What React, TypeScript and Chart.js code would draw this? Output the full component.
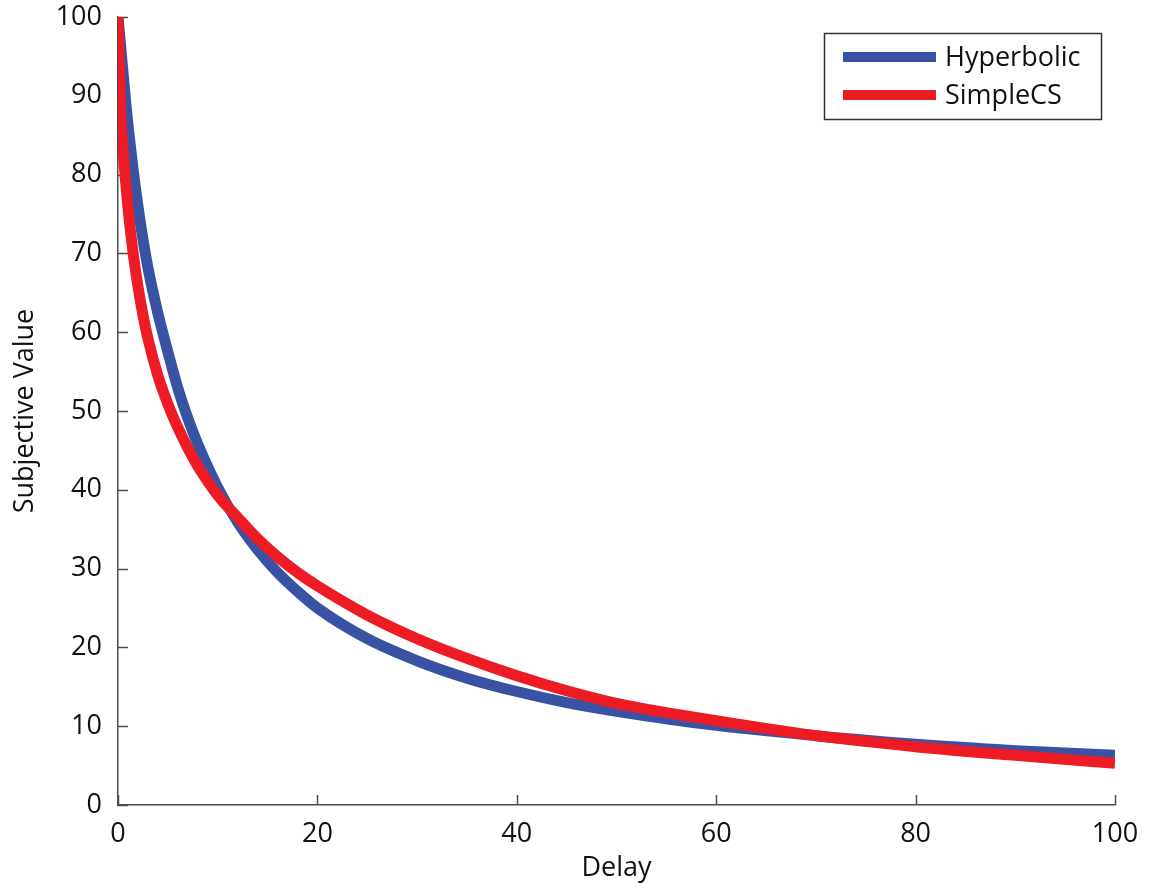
import { useEffect, useRef } from "react";
import { Chart, registerables } from "chart.js";

Chart.register(...registerables);

// ---- Data ----
const delays = [0, 0.25, 0.5, 0.75, 1, 1.5, 2, 2.5, 3, 4, 5, 6, 7, 8, 10, 12, 14, 16, 18, 20, 25, 30, 35, 40, 45, 50, 60, 70, 80, 90, 100];
const hyperbolicValues = [100, 96.5, 93, 89.5, 86.3, 80.8, 76, 71.8, 68.2, 62.4, 57.5, 52.9, 49.1, 45.8, 40.3, 35.9, 32.4, 29.5, 27.1, 25, 21.1, 18.3, 16.1, 14.4, 13, 11.9, 10.1, 8.8, 7.7, 6.9, 6.3];
const simpleCSValues = [100, 88.5, 83.3, 79.3, 75.8, 70.2, 65.8, 62.2, 59.2, 54.5, 50.9, 47.9, 45.3, 43, 39.3, 36.5, 33.8, 31.5, 29.5, 27.8, 24.1, 21.1, 18.6, 16.4, 14.5, 12.9, 10.7, 8.8, 7.4, 6.3, 5.3];

const seriesNames = ["Hyperbolic", "SimpleCS"];
const seriesColors = ["#3953a4", "#ed1c24"];

const xMin = 0;
const xMax = 100;
const xStep = 20;
const yMin = 0;
const yMax = 100;
const yStep = 10;

const xTitle = "Delay";
const yTitle = "Subjective Value";

const FONT = "'Open Sans', sans-serif";
const AXIS_COLOR = "#4d4d4d";

const inwardTicks = {
  id: "inwardTicks",
  beforeDatasetsDraw(chart: any) {
    const { ctx, chartArea, scales } = chart;
    ctx.save();
    ctx.strokeStyle = AXIS_COLOR;
    ctx.lineWidth = 1.5;
    scales.x.ticks.forEach((t: any) => {
      const px = Math.round(scales.x.getPixelForValue(t.value)) + 0.5;
      ctx.beginPath();
      ctx.moveTo(px, chartArea.bottom);
      ctx.lineTo(px, chartArea.bottom - 10);
      ctx.stroke();
    });
    scales.y.ticks.forEach((t: any) => {
      const py = Math.round(scales.y.getPixelForValue(t.value)) + 0.5;
      ctx.beginPath();
      ctx.moveTo(chartArea.left, py);
      ctx.lineTo(chartArea.left + 10, py);
      ctx.stroke();
    });
    ctx.restore();
  },
};

const boxLegend = {
  id: "boxLegend",
  afterDraw(chart: any) {
    const { ctx } = chart;
    const boxX = 824;
    const boxY = 33;
    const boxW = 277;
    const boxH = 86;
    ctx.save();
    ctx.fillStyle = "#ffffff";
    ctx.fillRect(boxX, boxY, boxW, boxH);
    ctx.strokeStyle = "#333333";
    ctx.lineWidth = 1.5;
    ctx.strokeRect(boxX + 0.5, boxY + 0.5, boxW, boxH);
    const rowYs = [57, 95];
    seriesNames.forEach((name, i) => {
      const y = rowYs[i];
      ctx.strokeStyle = seriesColors[i];
      ctx.lineWidth = 10;
      ctx.lineCap = "butt";
      ctx.beginPath();
      ctx.moveTo(843, y);
      ctx.lineTo(936, y);
      ctx.stroke();
      ctx.fillStyle = "#111111";
      ctx.font = `27px ${FONT}`;
      ctx.textBaseline = "middle";
      ctx.textAlign = "left";
      ctx.fillText(name, 945, y + 1);
    });
    ctx.restore();
  },
};

export default function App() {
  const canvasRef = useRef<HTMLCanvasElement | null>(null);

  useEffect(() => {
    document.body.style.margin = "0";
    const canvas = canvasRef.current;
    if (!canvas) return;
    const hyper = delays.map((d, i) => ({ x: d, y: hyperbolicValues[i] }));
    const simple = delays.map((d, i) => ({ x: d, y: simpleCSValues[i] }));
    const chart = new Chart(canvas, {
      type: "line",
      data: {
        datasets: [
          {
            label: seriesNames[0],
            data: hyper,
            borderColor: seriesColors[0],
            backgroundColor: seriesColors[0],
            borderWidth: 11,
            pointRadius: 0,
            cubicInterpolationMode: "monotone",
            borderCapStyle: "butt",
            borderJoinStyle: "round",
            clip: 0,
            order: 1,
          },
          {
            label: seriesNames[1],
            data: simple,
            borderColor: seriesColors[1],
            backgroundColor: seriesColors[1],
            borderWidth: 11,
            pointRadius: 0,
            cubicInterpolationMode: "monotone",
            borderCapStyle: "butt",
            borderJoinStyle: "round",
            clip: 0,
            order: 0,
          },
        ],
      },
      options: {
        responsive: false,
        animation: false,
        layout: { padding: { top: 17, right: 34, left: 0, bottom: 0 } },
        plugins: {
          legend: { display: false },
          tooltip: { enabled: false },
        },
        scales: {
          x: {
            type: "linear",
            min: xMin,
            max: xMax,
            ticks: {
              stepSize: xStep,
              color: "#111",
              font: { family: FONT, size: 27 },
              padding: 13,
              maxRotation: 0,
            },
            grid: { display: true, color: "transparent", drawTicks: false },
            border: { display: true, color: AXIS_COLOR, width: 1.5 },
            title: {
              display: true,
              text: xTitle,
              color: "#111",
              font: { family: FONT, size: 27 },
              padding: { top: 0, bottom: 3 },
            },
            afterFit(scale: any) {
              scale.height = 83;
              scale.paddingLeft = 0;
              scale.paddingRight = 0;
            },
          },
          y: {
            type: "linear",
            min: yMin,
            max: yMax,
            ticks: {
              stepSize: yStep,
              color: "#111",
              font: { family: FONT, size: 27 },
              padding: 16,
            },
            grid: { display: true, color: "transparent", drawTicks: false },
            border: { display: true, color: AXIS_COLOR, width: 1.5 },
            title: {
              display: true,
              text: yTitle,
              color: "#111",
              font: { family: FONT, size: 27 },
              padding: { top: 9, bottom: 0 },
            },
            afterFit(scale: any) {
              scale.width = 118;
              scale.paddingTop = 0;
              scale.paddingBottom = 0;
            },
          },
        },
      },
      plugins: [inwardTicks, boxLegend],
    });
    return () => chart.destroy();
  }, []);

  return (
    <div style={{ position: "absolute", left: 0, top: 0, width: 1149, height: 888, background: "#fff" }}>
      <canvas ref={canvasRef} width={1149} height={888} />
    </div>
  );
}
